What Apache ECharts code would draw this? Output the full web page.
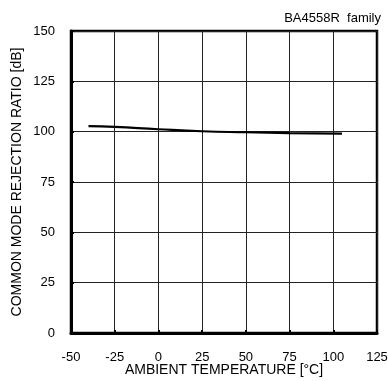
<!DOCTYPE html>
<html><head><meta charset="utf-8">
<script src="https://cdn.jsdelivr.net/npm/echarts@6/dist/echarts.min.js"></script>
<style>html,body{margin:0;padding:0;background:#fff}#c{width:388px;height:381px}</style>
</head><body><div id="c"></div>
<script>
const temperature = [-40, -25, 0, 25, 50, 75, 105];
const cmrr = [102.8, 102.4, 101.2, 100.2, 99.7, 99.3, 99.0];
const xTicks = [-50, -25, 0, 25, 50, 75, 100, 125];
const yTicks = [0, 25, 50, 75, 100, 125, 150];
const titleText = 'BA4558R  family';
const xName = 'AMBIENT TEMPERATURE [°C]';
const yName = 'COMMON MODE REJECTION RATIO [dB]';

const chart = echarts.init(document.getElementById('c'), null, {renderer: 'canvas'});
const font = 'Liberation Sans, Arial, sans-serif';
chart.setOption({
  animation: false,
  title: {text: titleText, right: 2, top: 7, textStyle: {fontFamily: font, fontSize: 13, fontWeight: 'normal', color: '#000'}},
  grid: {left: 71, right: 11, top: 31, bottom: 48, outerBoundsMode: 'none', containLabel: false, show: true, borderColor: '#000', borderWidth: 2.5},
  xAxis: {
    type: 'value', min: xTicks[0], max: xTicks[xTicks.length-1], interval: 25,
    name: xName, nameLocation: 'middle', nameGap: 30, nameMoveOverlap: false,
    nameTextStyle: {fontFamily: font, fontSize: 14, color: '#000'},
    axisLine: {show: true, onZero: false, lineStyle: {color: '#000', width: 3}},
    axisTick: {show: true, inside: true, length: 3, lineStyle: {color: '#000', width: 2}},
    axisLabel: {fontFamily: font, fontSize: 13, color: '#000', margin: 18},
    splitLine: {show: true, lineStyle: {color: '#222', width: 1}}
  },
  yAxis: {
    type: 'value', min: yTicks[0], max: yTicks[yTicks.length-1], interval: 25,
    name: yName, nameLocation: 'middle', nameGap: 47, nameMoveOverlap: false,
    nameTextStyle: {fontFamily: font, fontSize: 14, color: '#000'},
    axisLine: {show: true, onZero: false, lineStyle: {color: '#000', width: 3}},
    axisTick: {show: true, inside: true, length: 3, lineStyle: {color: '#000', width: 2}},
    axisLabel: {fontFamily: font, fontSize: 13, color: '#000', margin: 16},
    splitLine: {show: true, lineStyle: {color: '#222', width: 1}}
  },
  series: [{
    type: 'line', smooth: true, showSymbol: false,
    data: temperature.map((t, i) => [t, cmrr[i]]),
    lineStyle: {color: '#000', width: 2.2}
  }]
});
</script></body></html>
